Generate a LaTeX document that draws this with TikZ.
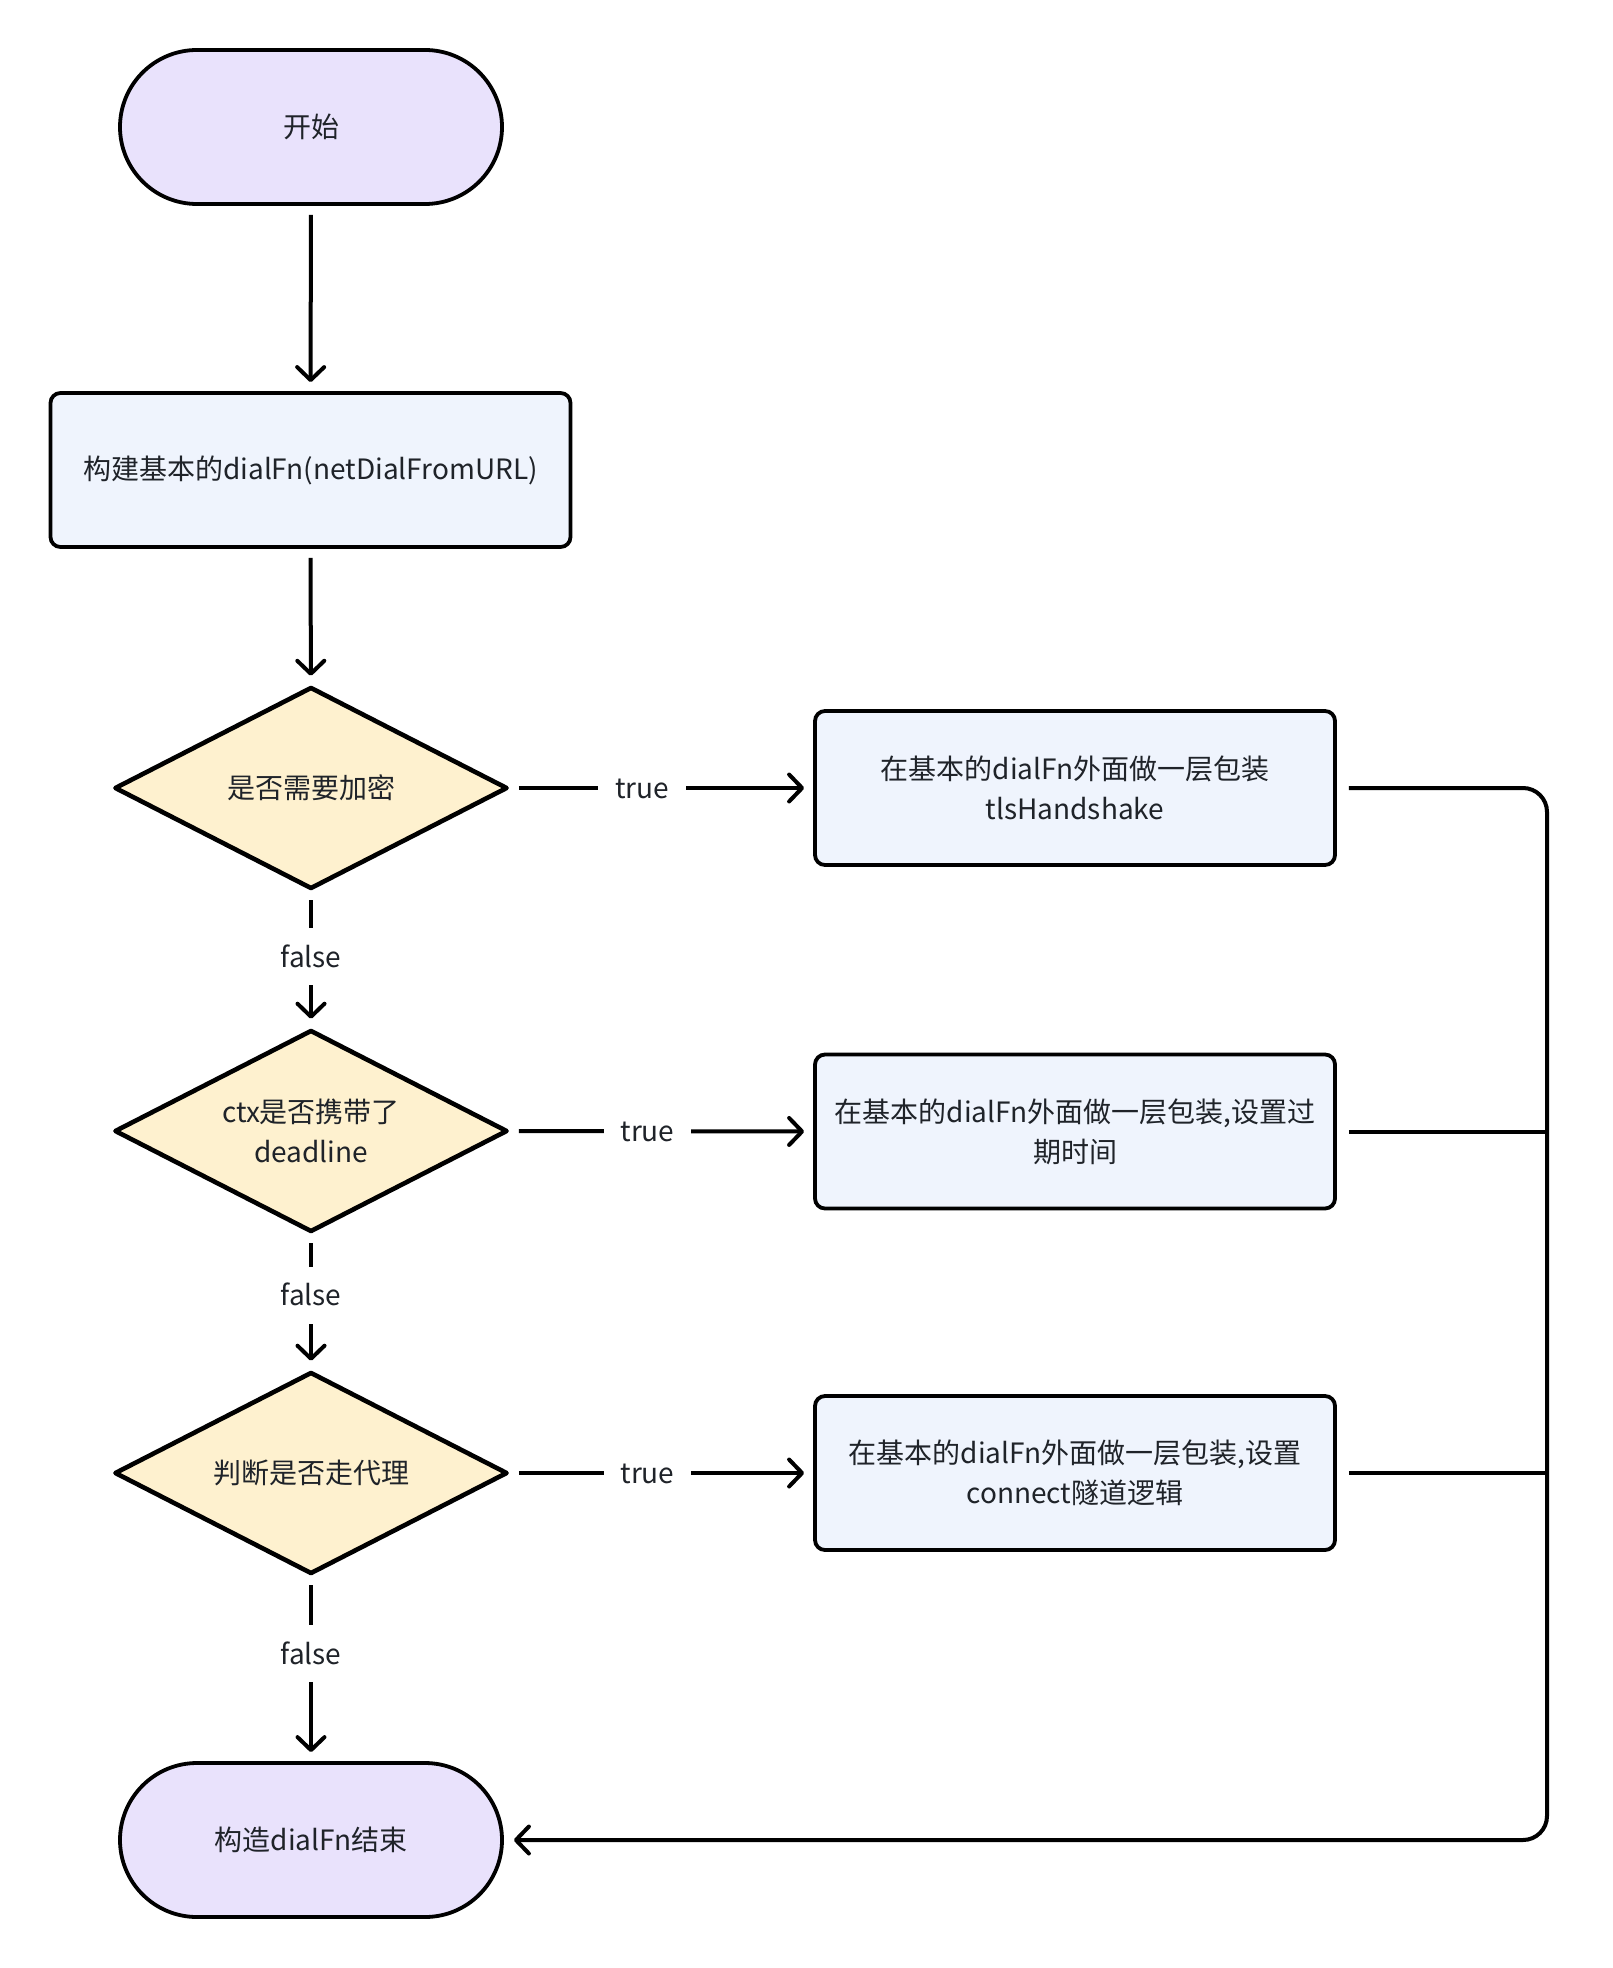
\documentclass[tikz,border=0pt]{standalone}
\usepackage{fontspec}
\setmainfont{Noto Sans CJK SC}
\usetikzlibrary{shapes.geometric,arrows.meta}
\definecolor{termfill}{HTML}{E9E2FC}
\definecolor{boxfill}{HTML}{EFF4FD}
\definecolor{decfill}{HTML}{FEF1CF}
\definecolor{txt}{HTML}{1F2329}
\begin{document}
\begin{tikzpicture}[x=0.5pt,y=-0.5pt,
  every node/.style={text=txt, font=\fontsize{14pt}{20pt}\selectfont},
  term/.style={draw=black, line width=1.9pt, fill=termfill, rounded corners=38.5pt, minimum width=191pt, minimum height=77pt, inner sep=0pt},
  procbox/.style={draw=black, line width=1.9pt, fill=boxfill, rounded corners=5pt, minimum width=260pt, minimum height=77pt, align=center, inner sep=0pt},
  decision/.style={diamond, aspect=2, draw=black, line width=2.3pt, line join=round, fill=decfill, minimum width=196.5pt, minimum height=101pt, align=center, inner sep=0pt},
  conn/.style={line width=2pt, draw=black},
  arr/.style={conn, shorten <=4.5pt, shorten >=4.5pt, -{Straight Barb[length=6.5pt,width=13.5pt,round]}},
  lab/.style={fill=white, inner xsep=8.5pt, inner ysep=9pt, text height=10.5pt, text depth=0pt}
]
\fill[white] (0,0) rectangle (1612,1968);
\useasboundingbox (0,0) rectangle (1612,1968);

\node[term] (start) at (311,127) {开始};
\node[procbox] (b1) at (310.5,470) {构建基本的dialFn(netDialFromURL)};
\node[decision] (d1) at (311,788) {是否需要加密};
\node[decision] (d2) at (311,1131) {ctx是否携带了\\deadline};
\node[decision] (d3) at (311,1473) {判断是否走代理};
\node[term] (endn) at (311,1840) {构造dialFn结束};

\node[procbox] (t1) at (1075,788) {在基本的dialFn外面做一层包装\\tlsHandshake};
\node[procbox] (t2) at (1075,1131.5) {在基本的dialFn外面做一层包装,设置过\\期时间};
\node[procbox] (t3) at (1075,1473) {在基本的dialFn外面做一层包装,设置\\connect隧道逻辑};

\coordinate (railtop) at (1547,788);
\coordinate (railbot) at (1547,1840);

\draw[arr] (start) -- (b1);
\draw[arr] (b1) -- (d1);
\draw[arr] (d1) -- node[lab, pos=0.48] {false} (d2);
\draw[arr] (d2) -- node[lab, pos=0.45] {false} (d3);
\draw[arr] (d3) -- node[lab, pos=0.42] {false} (endn);

\draw[arr] (d1.east) -- node[lab, pos=0.436] {true} (t1.west);
\draw[arr] (d2.east) -- node[lab, pos=0.454] {true} (t2.west);
\draw[arr] (d3.east) -- node[lab, pos=0.454] {true} (t3.west);

\draw[arr, shorten <=6pt, shorten >=5pt, rounded corners=12pt] (t1.east) -- (railtop) -- (railbot) -- (endn.east);
\draw[conn, shorten <=6pt] (t2.east) -- (t2.east -| railtop);
\draw[conn, shorten <=6pt] (t3.east) -- (t3.east -| railtop);
\end{tikzpicture}
\end{document}
